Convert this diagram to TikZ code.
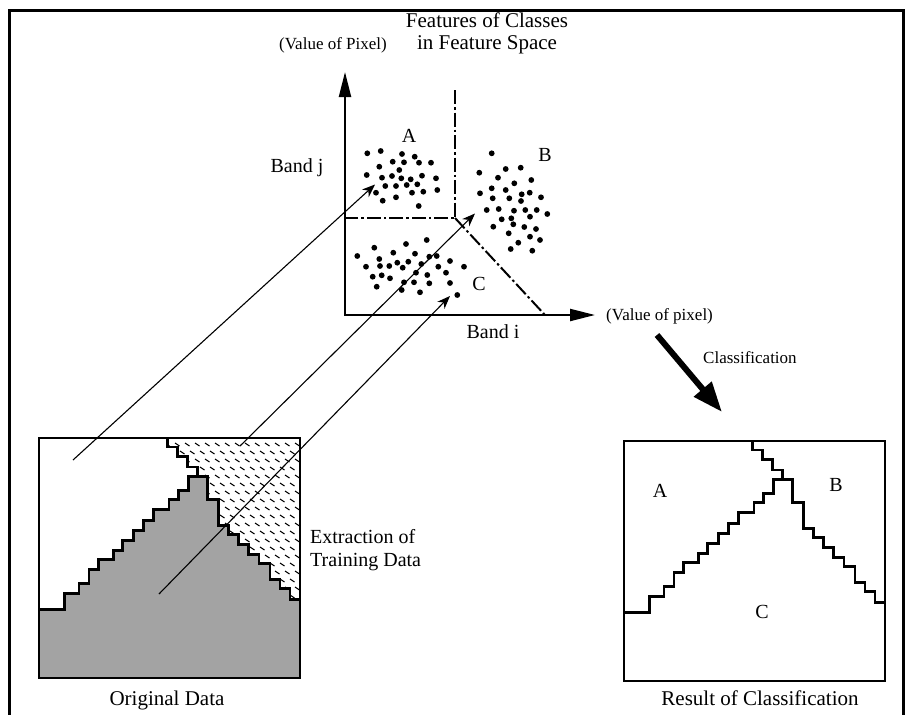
\documentclass[tikz,border=0pt]{standalone}
\usepackage{fontspec}
\setmainfont{Liberation Serif}
\usetikzlibrary{arrows.meta}
\begin{document}
\begin{tikzpicture}[x=1pt,y=-1pt,
  lbl/.style={inner sep=0pt, font=\fontsize{20}{23}\selectfont},
  big/.style={inner sep=0pt, font=\fontsize{21}{25}\selectfont},
  small/.style={inner sep=0pt, font=\fontsize{17}{20}\selectfont},
  axis/.style={line width=2.2pt, {Triangle[length=25pt,width=12pt]}-{Triangle[length=25pt,width=12pt]}},
  divider/.style={line width=2pt, dash pattern=on 14pt off 3pt on 2.5pt off 3pt},
  link/.style={line width=1.1pt, -{Stealth[length=13pt,width=10pt,inset=4pt]}},
  boxline/.style={line width=2.5pt},
  stair/.style={line width=2.5pt, line join=miter},
  fat/.style={line width=6pt, -{Triangle[length=30pt,width=22pt]}}]

\useasboundingbox (0,0) rectangle (906,715);
\fill[white] (0,0) rectangle (906,715);

% outer frame
\draw[line width=3pt] (9,730) -- (9,10) -- (903,10) -- (903,730);

% ---------------- feature space ----------------
\node[big] (t1) at (487,20) {Features of Classes};
\node[big] (t2) at (487,45) {in Feature Space};
\node[small] (vy) at (333,45) {(Value of Pixel)};
\node[lbl] (bj) at (297,168) {Band j};
\node[lbl] (bi) at (493,332) {Band i};
\node[small, anchor=west] (vx) at (606,316) {(Value of pixel)};
\node[lbl] (la) at (409,136) {A};
\node[lbl] (lb) at (545,155) {B};
\node[lbl] (lc) at (479,284) {C};

\coordinate (O) at (345,315);
\coordinate (Yt) at (345,72);
\coordinate (Xt) at (595,315);
\draw[axis] (Yt) -- (O) -- (Xt);

\coordinate (dv0) at (455,90);
\coordinate (dc) at (455,218);
\coordinate (dh0) at (345,218);
\coordinate (dd1) at (545,315);
\draw[divider] (dv0) -- (dc) -- (dh0);
\draw[divider] (dc) -- (dd1);

% clusters
\foreach \p in {(367.3,153.3),(380.7,151),(402,154),(414.7,156.7),(392.7,161.7),(404,162.3),(419,162.7),(431,162.7),(379.3,166.7),(399.3,170),(366.7,175),(382,177.7),(392,176),(401.3,178.3),(410.7,179.3),(422,175.7),(436,178.3),(385.3,186),(396,186),(406.7,185),(417.3,184.3),(376,192.7),(412,192.7),(423.3,191.7),(437.3,190),(382.7,200.7),(396,197.3),(418.7,206)}
  \fill \p circle (2.9);
\foreach \p in {(491.7,153.3),(479.3,172.7),(505.7,169),(520.7,167.7),(498,177.7),(514.3,183.3),(531.3,180),(491.7,188.3),(480,193.3),(505.7,190),(521.7,194.3),(529.7,192.7),(492.7,198.3),(509.3,198.3),(521,201),(541,197.3),(486.7,210),(498.7,209),(514,210.7),(525.3,210),(536.7,210),(547.3,214),(501.7,219.3),(511.3,218.3),(530,216.7),(493.3,226.7),(513.3,224.3),(524.3,227),(536,229),(508.7,233.3),(530,236.7),(540,240),(518.3,242.7),(510.7,249),(532.3,250.7)}
  \fill \p circle (2.9);
\foreach \p in {(426.7,240),(406,244),(374.3,247.7),(393.3,252.7),(415,253.7),(429.3,256.7),(436.7,256),(357.3,256),(379.3,259),(421.3,264),(450,261),(366,266.7),(380,266),(389.3,266),(397.3,262.7),(408.3,261.7),(402.7,267.7),(416,272.7),(427.3,275),(438.3,266.7),(446,272.7),(464,266.7),(372.7,276.7),(381.7,275.3),(390,278.3),(404,282.3),(414,282.3),(429.3,283.3),(450,283),(376.7,286.7),(401.7,290),(420,292.3),(457.3,295)}
  \fill \p circle (2.9);

% ---------------- original data box ----------------
\begin{scope}[shift={(-585,-3)}]
\fill[black!36] (624,612.3) -- (649.3,612.3) -- (649.3,596.7) -- (664,596.7) -- (664,586.7) -- (674,586.7) -- (674,572.7) -- (683.3,572.7) -- (683.3,562.7) -- (698.7,562.7) -- (698.7,553.3) -- (707.3,553.3) -- (707.3,543.3) -- (718.3,543.3) -- (718.3,533.3) -- (728.3,533.3) -- (728.3,523.3) -- (738.3,523.3) -- (738.3,512.7) -- (754,512.7) -- (754,502.7) -- (763.3,502.7) -- (763.3,493.3) -- (773.3,493.3) -- (773.3,479.3) -- (792.7,479.3) -- (792.7,502.7) -- (803.3,502.7) -- (803.3,528.3) -- (813.3,528.3) -- (813.3,537.3) -- (823.3,537.3) -- (823.3,547.3) -- (833.3,547.3) -- (833.3,557.3) -- (844,557.3) -- (844,566.7) -- (855,566.7) -- (855,582.7) -- (865,582.7) -- (865,591.7) -- (875,591.7) -- (875,602.7) -- (885,602.7) -- (885,681) -- (624,681) -- cycle;
\begin{scope}
\clip (782.7,479.3) -- (782.7,470) -- (772.7,470) -- (772.7,459.3) -- (762.7,459.3) -- (762.7,450) -- (752.7,450) -- (752.7,441) -- (885,441) -- (885,602.7) -- (875,602.7) -- (875,591.7) -- (865,591.7) -- (865,582.7) -- (855,582.7) -- (855,566.7) -- (844,566.7) -- (844,557.3) -- (833.3,557.3) -- (833.3,547.3) -- (823.3,547.3) -- (823.3,537.3) -- (813.3,537.3) -- (813.3,528.3) -- (803.3,528.3) -- (803.3,502.7) -- (792.7,502.7) -- (792.7,479.3) -- cycle;
\foreach \r in {0,...,21} \foreach \c in {0,...,14}
  \draw[line width=1pt] ({745+\c*10+mod(\r,2)*5},{438+\r*8}) -- ++(4.5,3);
\end{scope}
\draw[stair] (624,612.3) -- (649.3,612.3) -- (649.3,596.7) -- (664,596.7) -- (664,586.7) -- (674,586.7) -- (674,572.7) -- (683.3,572.7) -- (683.3,562.7) -- (698.7,562.7) -- (698.7,553.3) -- (707.3,553.3) -- (707.3,543.3) -- (718.3,543.3) -- (718.3,533.3) -- (728.3,533.3) -- (728.3,523.3) -- (738.3,523.3) -- (738.3,512.7) -- (754,512.7) -- (754,502.7) -- (763.3,502.7) -- (763.3,493.3) -- (773.3,493.3) -- (773.3,479.3) -- (792.7,479.3) -- (792.7,502.7) -- (803.3,502.7) -- (803.3,528.3) -- (813.3,528.3) -- (813.3,537.3) -- (823.3,537.3) -- (823.3,547.3) -- (833.3,547.3) -- (833.3,557.3) -- (844,557.3) -- (844,566.7) -- (855,566.7) -- (855,582.7) -- (865,582.7) -- (865,591.7) -- (875,591.7) -- (875,602.7) -- (885,602.7);
\draw[stair] (782.7,479.3) -- (782.7,470) -- (772.7,470) -- (772.7,459.3) -- (762.7,459.3) -- (762.7,450) -- (752.7,450) -- (752.7,441);
\end{scope}
\draw[boxline] (39,438) rectangle (300,678);
\node[big] (od) at (167,700) {Original Data};
\node[lbl, anchor=west, align=left] (ex) at (310,550) {Extraction of\\Training Data};

% ---------------- result box ----------------
\draw[stair] (624,612.3) -- (649.3,612.3) -- (649.3,596.7) -- (664,596.7) -- (664,586.7) -- (674,586.7) -- (674,572.7) -- (683.3,572.7) -- (683.3,562.7) -- (698.7,562.7) -- (698.7,553.3) -- (707.3,553.3) -- (707.3,543.3) -- (718.3,543.3) -- (718.3,533.3) -- (728.3,533.3) -- (728.3,523.3) -- (738.3,523.3) -- (738.3,512.7) -- (754,512.7) -- (754,502.7) -- (763.3,502.7) -- (763.3,493.3) -- (773.3,493.3) -- (773.3,479.3) -- (792.7,479.3) -- (792.7,502.7) -- (803.3,502.7) -- (803.3,528.3) -- (813.3,528.3) -- (813.3,537.3) -- (823.3,537.3) -- (823.3,547.3) -- (833.3,547.3) -- (833.3,557.3) -- (844,557.3) -- (844,566.7) -- (855,566.7) -- (855,582.7) -- (865,582.7) -- (865,591.7) -- (875,591.7) -- (875,602.7) -- (885,602.7);
\draw[stair] (782.7,479.3) -- (782.7,470) -- (772.7,470) -- (772.7,459.3) -- (762.7,459.3) -- (762.7,450) -- (752.7,450) -- (752.7,441);
\draw[boxline] (624,441) rectangle (885,681);
\node[lbl] (ra) at (660,491) {A};
\node[lbl] (rb) at (836,485) {B};
\node[lbl] (rc) at (762,612) {C};
\node[big] (rs) at (760,698) {Result of Classification};

% ---------------- connectors ----------------
\coordinate (a0) at (73,460);
\coordinate (a1) at (375,184.5);
\coordinate (b0) at (240,446);
\coordinate (b1) at (475,213.5);
\coordinate (c0) at (159,594);
\coordinate (c1) at (450,296);
\draw[link] (a0) -- (a1);
\draw[link] (b0) -- (b1);
\draw[link] (c0) -- (c1);

\coordinate (k0) at (657,335);
\coordinate (k1) at (722,412);
\draw[fat] (k0) -- (k1);
\node[small, anchor=west] (cl) at (703,358) {Classification};
\end{tikzpicture}
\end{document}
